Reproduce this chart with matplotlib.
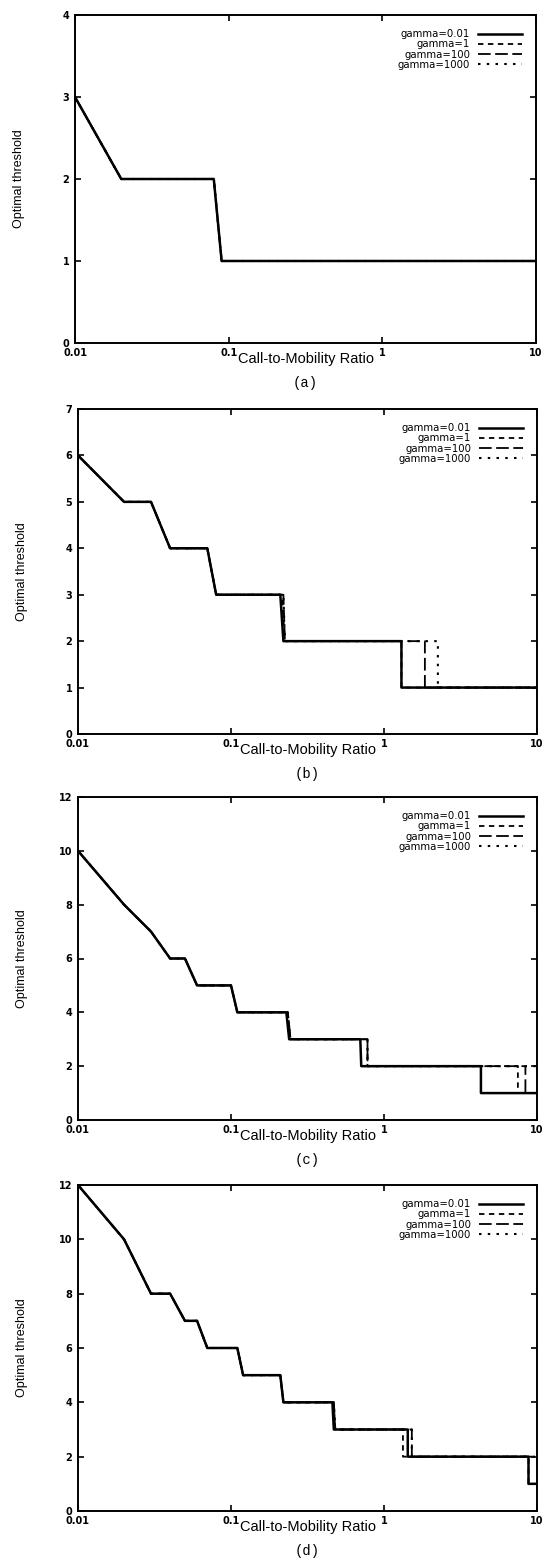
import matplotlib
matplotlib.use("Agg")
from matplotlib import pyplot as plt

# legend labels and line styles (gnuplot style)
gammas = ["gamma=0.01", "gamma=1", "gamma=100", "gamma=1000"]

# panel (a): all gammas give the same curve
a_x = [0.01, 0.02, 0.08, 0.09, 10]
a_y = [3, 2, 2, 1, 1]

# panel (b)
b_x_001 = [0.01, 0.02, 0.03, 0.04, 0.07, 0.08, 0.21, 0.22, 1.3, 1.3, 10]
b_y_001 = [6, 5, 5, 4, 4, 3, 3, 2, 2, 1, 1]
b_x_1 = [0.01, 0.02, 0.03, 0.04, 0.07, 0.08, 0.215, 0.225, 1.3, 1.3, 10]
b_y_1 = [6, 5, 5, 4, 4, 3, 3, 2, 2, 1, 1]
b_x_100 = [0.01, 0.02, 0.03, 0.04, 0.07, 0.08, 0.22, 0.225, 1.85, 1.85, 10]
b_y_100 = [6, 5, 5, 4, 4, 3, 3, 2, 2, 1, 1]
b_x_1000 = [0.01, 0.02, 0.03, 0.04, 0.07, 0.08, 0.22, 0.225, 2.25, 2.25, 10]
b_y_1000 = [6, 5, 5, 4, 4, 3, 3, 2, 2, 1, 1]

# panel (c)
c_x_001 = [0.01, 0.02, 0.03, 0.04, 0.05, 0.06, 0.1, 0.11, 0.23, 0.24, 0.7, 0.71, 4.3, 4.3, 10]
c_y_001 = [10, 8, 7, 6, 6, 5, 5, 4, 4, 3, 3, 2, 2, 1, 1]
c_x_1 = [0.01, 0.02, 0.03, 0.04, 0.05, 0.06, 0.1, 0.11, 0.235, 0.245, 0.78, 0.78, 7.5, 7.5, 10]
c_y_1 = [10, 8, 7, 6, 6, 5, 5, 4, 4, 3, 3, 2, 2, 1, 1]
c_x_100 = [0.01, 0.02, 0.03, 0.04, 0.05, 0.06, 0.1, 0.11, 0.235, 0.245, 0.78, 0.78, 8.4, 8.4, 10]
c_y_100 = [10, 8, 7, 6, 6, 5, 5, 4, 4, 3, 3, 2, 2, 1, 1]
c_x_1000 = [0.01, 0.02, 0.03, 0.04, 0.05, 0.06, 0.1, 0.11, 0.235, 0.245, 0.78, 0.78, 10]
c_y_1000 = [10, 8, 7, 6, 6, 5, 5, 4, 4, 3, 3, 2, 2]

# panel (d)
d_x_001 = [0.01, 0.02, 0.03, 0.04, 0.05, 0.06, 0.07, 0.11, 0.12, 0.21, 0.22, 0.46, 0.47, 1.43, 1.43, 8.8, 8.8, 10]
d_y_001 = [12, 10, 8, 8, 7, 7, 6, 6, 5, 5, 4, 4, 3, 3, 2, 2, 1, 1]
d_x_1 = [0.01, 0.02, 0.03, 0.04, 0.05, 0.06, 0.07, 0.11, 0.12, 0.21, 0.22, 0.47, 0.48, 1.33, 1.33, 8.8, 8.8, 10]
d_y_1 = [12, 10, 8, 8, 7, 7, 6, 6, 5, 5, 4, 4, 3, 3, 2, 2, 1, 1]
d_x_100 = [0.01, 0.02, 0.03, 0.04, 0.05, 0.06, 0.07, 0.11, 0.12, 0.21, 0.22, 0.47, 0.48, 1.52, 1.52, 10]
d_y_100 = [12, 10, 8, 8, 7, 7, 6, 6, 5, 5, 4, 4, 3, 3, 2, 2]
d_x_1000 = [0.01, 0.02, 0.03, 0.04, 0.05, 0.06, 0.07, 0.11, 0.12, 0.21, 0.22, 0.47, 0.48, 1.52, 1.52, 10]
d_y_1000 = [12, 10, 8, 8, 7, 7, 6, 6, 5, 5, 4, 4, 3, 3, 2, 2]

panels = [
    ("(a)", [(a_x, a_y)] * 4, [0, 1, 2, 3, 4], 4, [75, 15, 536, 343]),
    ("(b)", [(b_x_001, b_y_001), (b_x_1, b_y_1), (b_x_100, b_y_100), (b_x_1000, b_y_1000)],
     list(range(0, 8)), 7, [78, 409, 537, 734]),
    ("(c)", [(c_x_001, c_y_001), (c_x_1, c_y_1), (c_x_100, c_y_100), (c_x_1000, c_y_1000)],
     list(range(0, 13, 2)), 12, [78, 797, 537, 1120]),
    ("(d)", [(d_x_001, d_y_001), (d_x_1, d_y_1), (d_x_100, d_y_100), (d_x_1000, d_y_1000)],
     list(range(0, 13, 2)), 12, [78, 1185, 537, 1511]),
]

styles = [
    dict(linestyle="-", linewidth=1.8),
    dict(linestyle=(0, (3, 2.5)), linewidth=1.3),
    dict(linestyle=(0, (7, 2.5)), linewidth=1.3),
    dict(linestyle=(0, (1.2, 3)), linewidth=1.5),
]

W, H = 543, 1562
fig = plt.figure(figsize=(W / 100, H / 100), dpi=100)

for caption, series, yticks, ymax, (l, t, r, b) in panels:
    ax = fig.add_axes([l / W, 1 - b / H, (r - l) / W, (b - t) / H])
    # draw dashed series first, solid on top
    for (xs, ys), lab, st in list(zip(series, gammas, styles))[::-1]:
        ax.plot(xs, ys, color="black", label=lab, **st)
    ax.set_xscale("log")
    ax.set_xlim(0.01, 10)
    ax.set_ylim(0, ymax)
    ax.set_xticks([0.01, 0.1, 1, 10])
    ax.set_xticklabels(["0.01", "0.1", "1", "10"])
    ax.minorticks_off()
    ax.set_yticks(yticks)
    ax.tick_params(direction="in", top=True, right=True, length=4, width=1.2,
                   labelsize=7)
    ax.tick_params(axis="x", pad=3.5)
    ax.tick_params(axis="y", pad=4)
    for lbl in ax.get_xticklabels() + ax.get_yticklabels():
        lbl.set_fontweight("bold")
    for sp in ax.spines.values():
        sp.set_linewidth(1.4)

    hpx = b - t
    wpx = r - l
    ax.set_xlabel("Call-to-Mobility Ratio", fontsize=10.5, family="Liberation Sans")
    ax.xaxis.set_label_coords(0.5, -9 / hpx)
    ax.set_ylabel("Optimal threshold", fontsize=9,
                  family=["Liberation Sans Narrow", "Liberation Sans"])
    ax.yaxis.set_label_coords(-50 / wpx, 0.5)
    ax.annotate(caption, xy=(0.5, 0), xycoords="axes fraction", xytext=(0, -40),
                textcoords="offset pixels", ha="center", va="center",
                fontsize=10, family="Liberation Mono")

    handles, labels = ax.get_legend_handles_labels()
    ax.legend(handles[::-1], labels[::-1], loc="upper right", frameon=False,
              markerfirst=False, fontsize=7.3, handlelength=4.3, handletextpad=0.8,
              labelspacing=0.02, borderaxespad=1.0)

fig.savefig("out.png", dpi=100)
